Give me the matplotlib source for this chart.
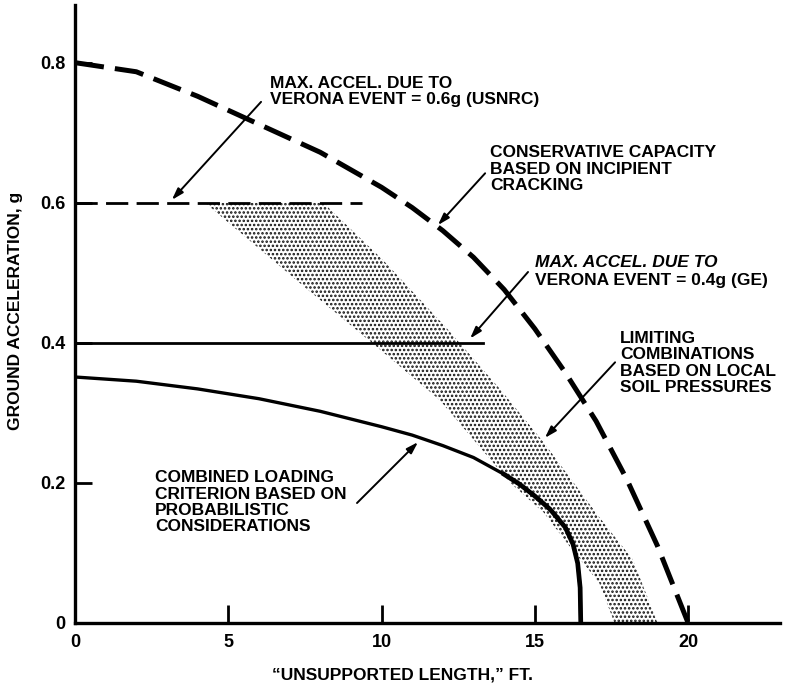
import numpy as np
import matplotlib
matplotlib.use("Agg")
import matplotlib.pyplot as plt

plt.rcParams['font.family'] = ['Liberation Sans', 'DejaVu Sans']
plt.rcParams['font.weight'] = 'bold'
plt.rcParams['lines.scale_dashes'] = False
plt.rcParams['hatch.linewidth'] = 1.2

# conservative capacity (dashed outer curve)
cap_x = [0, 2, 4, 6, 8, 10, 11, 12, 13, 14, 15, 16, 17, 18, 19, 20]
cap_y = [0.800, 0.787, 0.752, 0.712, 0.672, 0.622, 0.593, 0.560, 0.522, 0.476,
         0.420, 0.357, 0.288, 0.205, 0.110, 0.0]

# combined loading criterion (solid curve)
comb_x = [0, 2, 4, 6, 8, 10, 11, 12, 13, 14, 14.5, 15, 15.5, 16, 16.25, 16.4, 16.48, 16.5]
comb_y = [0.351, 0.345, 0.334, 0.320, 0.302, 0.280, 0.268, 0.253, 0.236, 0.212,
          0.198, 0.181, 0.162, 0.136, 0.112, 0.085, 0.05, 0.0]

# limiting combinations band (upper/right edge and lower/left edge)
band_hi_x = [4.24, 8.1, 10.05, 12.1, 13.9, 15.3, 17.1, 18.2, 19.0]
band_hi_y = [0.60, 0.60, 0.518, 0.422, 0.332, 0.257, 0.151, 0.09, 0.0]
band_lo_x = [4.24, 7.34, 9.85, 11.9, 14.2, 15.3, 16.05, 17.1, 17.6]
band_lo_y = [0.60, 0.485, 0.394, 0.318, 0.20, 0.157, 0.114, 0.057, 0.0]

# max accel. levels
usnrc_level, usnrc_end = 0.6, 9.36
ge_level, ge_end = 0.4, 13.3

xticks = [0, 5, 10, 15, 20]
xtick_labels = ['0', '5', '10', '15', '20']
yticks = [0, 0.2, 0.4, 0.6, 0.8]
ytick_labels = ['0', '0.2', '0.4', '0.6', '0.8']

fig = plt.figure(figsize=(7.87, 6.91), dpi=100)
ax = fig.add_axes([0.0953, 0.0988, 0.8958, 0.894])
ax.set_xlim(0, 23)
ax.set_ylim(0, 0.8824)

poly_x = band_hi_x + band_lo_x[::-1]
poly_y = band_hi_y + band_lo_y[::-1]
ax.fill(poly_x, poly_y, facecolor='white', edgecolor='#111111', hatch='....', linewidth=0)

ax.plot(cap_x, cap_y, color='black', lw=3.6, dashes=(21, 8), solid_capstyle='butt')
ax.plot(comb_x, comb_y, color='black', lw=2.4)
ax.plot(comb_x[9:], comb_y[9:], color='black', lw=3.4)
ax.plot([0, usnrc_end], [usnrc_level, usnrc_level], color='black', lw=2.0, dashes=(16, 6))
ax.plot([0, ge_end], [ge_level, ge_level], color='black', lw=2.0)

for s in ['top', 'right']:
    ax.spines[s].set_visible(False)
for s in ['left', 'bottom']:
    ax.spines[s].set_linewidth(2.4)

ax.set_xticks(xticks)
ax.set_xticklabels(xtick_labels)
ax.set_yticks(yticks)
ax.set_yticklabels(ytick_labels)
ax.tick_params(axis='x', direction='in', length=13, width=2, pad=8, labelsize=13)
ax.tick_params(axis='y', direction='in', length=12, width=2, pad=7, labelsize=13)

ax.set_xlabel('\u201cUNSUPPORTED LENGTH,\u201d FT.', fontsize=12.5, fontweight='bold')
ax.xaxis.set_label_coords(0.464, -0.072)
ax.set_ylabel('GROUND ACCELERATION, g', fontsize=12.5, fontweight='bold')
ax.yaxis.set_label_coords(-0.074, 0.505)

tkw = dict(fontsize=12.5, fontweight='bold', ha='left', va='top', linespacing=1.12)
arw = dict(arrowstyle='-|>,head_length=0.7,head_width=0.22', lw=1.4, color='black',
           shrinkA=0, shrinkB=0)

ax.text(6.36, 0.781, 'MAX. ACCEL. DUE TO\nVERONA EVENT = 0.6g (USNRC)', **tkw)
ax.annotate('', xy=(3.16, 0.604), xytext=(6.07, 0.744), arrowprops=arw)

ax.text(13.54, 0.682, 'CONSERVATIVE CAPACITY\nBASED ON INCIPIENT\nCRACKING', **tkw)
ax.annotate('', xy=(11.84, 0.568), xytext=(13.38, 0.642), arrowprops=arw)

ax.text(15.0, 0.525, 'MAX. ACCEL. DUE TO', style='italic', **tkw)
ax.text(15.0, 0.499, 'VERONA EVENT = 0.4g (GE)', **tkw)
ax.annotate('', xy=(12.89, 0.406), xytext=(14.78, 0.501), arrowprops=arw)

ax.text(17.78, 0.417, 'LIMITING\nCOMBINATIONS\nBASED ON LOCAL\nSOIL PRESSURES', **tkw)
ax.annotate('', xy=(15.33, 0.264), xytext=(17.62, 0.372), arrowprops=arw)

ax.text(2.61, 0.218, 'COMBINED LOADING\nCRITERION BASED ON\nPROBABILISTIC\nCONSIDERATIONS', **tkw)
ax.annotate('', xy=(11.19, 0.258), xytext=(9.2, 0.171), arrowprops=arw)

fig.savefig('out.png', dpi=100)
